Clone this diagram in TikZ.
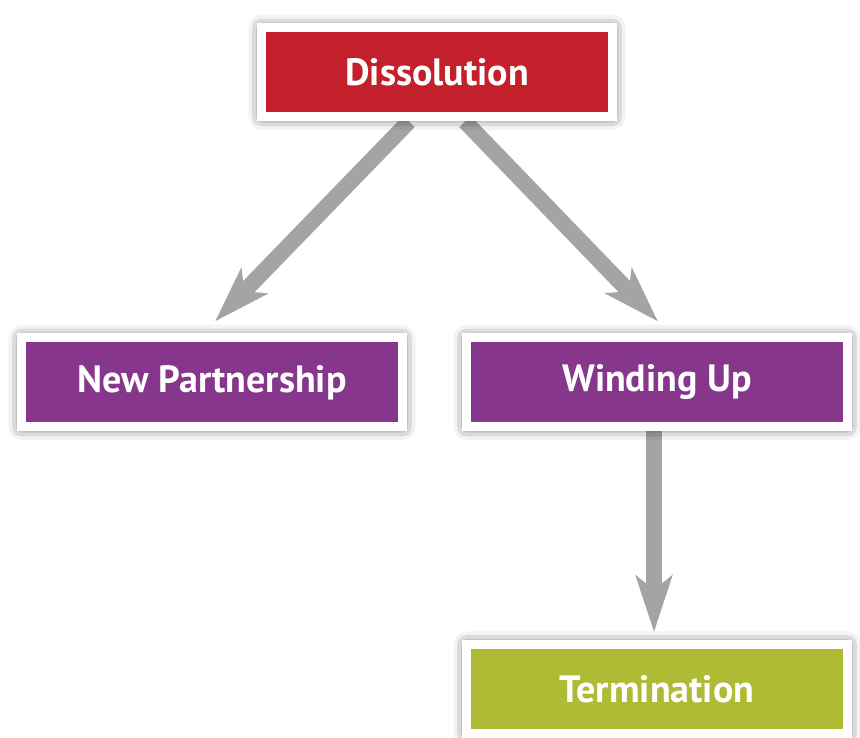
\documentclass[tikz,border=0pt]{standalone}
\usepackage{fontspec}
\setmainfont{PT Sans}
\usetikzlibrary{arrows.meta,shadows.blur,backgrounds,calc}

\definecolor{dissred}{HTML}{C4202B}
\definecolor{steppurple}{HTML}{86378C}
\definecolor{endolive}{HTML}{B0BB35}
\definecolor{arrowgray}{HTML}{A3A4A6}

\tikzset{
    x=1pt, y=1pt,
    stagebox/.style={draw=white, line width=9pt, minimum height=89pt,
                     text=white, font=\fontsize{38}{44}\selectfont\bfseries,
                     blur shadow={shadow xshift=0pt, shadow yshift=0pt,
                                  shadow blur radius=13pt, shadow opacity=75}},
    flowarrow/.style={draw=arrowgray, line width=16pt,
                      -{Stealth[length=56pt, width=36pt, inset=14pt]}}
}

\begin{document}
\begin{tikzpicture}
        \useasboundingbox (0,0) rectangle (860,738);
        % stages
        \node[stagebox, fill=dissred, minimum width=351pt] (diss) at (437,665.5) {Dissolution};
        \node[stagebox, fill=steppurple, minimum width=381pt] (newp) at (212,355.5) {New Partnership};
        \node[stagebox, fill=steppurple, minimum width=381pt] (wind) at (657,355.5) {Winding Up};
        \node[stagebox, fill=endolive, minimum width=381pt] (term) at (657,49) {Termination};
        % arrows behind the boxes
        \begin{scope}[on background layer]
            \draw[flowarrow] ($(diss.south)+(-28,0)$) -- ($(newp.north)+(3,12)$);
            \draw[flowarrow] ($(diss.south)+(28,0)$) -- ($(wind.north)+(1,12)$);
            \draw[flowarrow] ($(wind.south)+(-3,0)$) -- ($(term.north)+(-3,8)$);
        \end{scope}
    \end{tikzpicture}
\end{document}
